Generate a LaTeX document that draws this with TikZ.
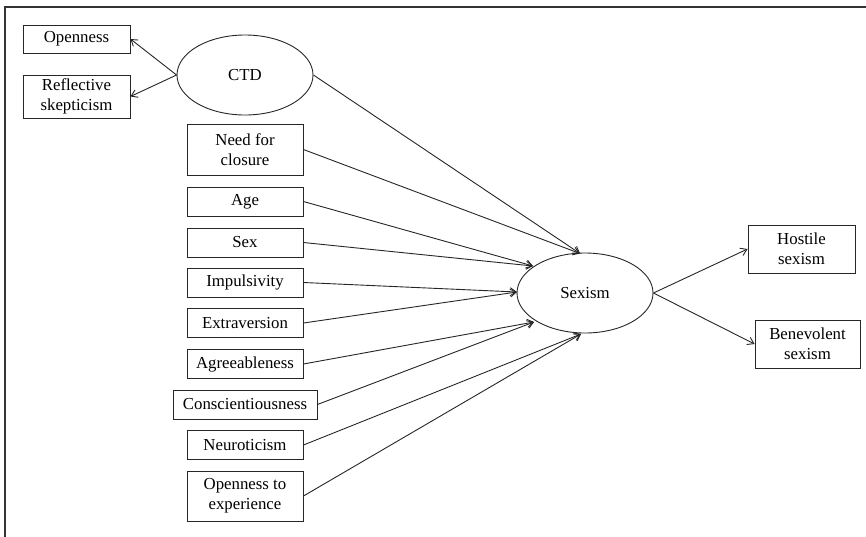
\documentclass[tikz,border=0pt]{standalone}
\usepackage{fontspec}
\setmainfont{Liberation Serif}
\usetikzlibrary{shapes.geometric,arrows.meta}
\begin{document}
\begin{tikzpicture}[x=1pt,y=-1pt,
  every node/.style={font=\fontsize{16.8}{20}\selectfont, text=black},
  box/.style={draw=black!85, line width=0.9pt, rectangle, inner sep=0pt,
              minimum width=116pt, minimum height=29pt, align=center},
  tallbox/.style={box, minimum height=50pt},
  latent/.style={draw=black!85, line width=0.9pt, ellipse, inner sep=0pt,
                 minimum width=136pt, minimum height=80pt},
  path/.style={draw=black!85, line width=0.9pt,
               -{Straight Barb[length=6pt,width=8pt]}}]
  \clip (0,0) rectangle (866,536);
  \useasboundingbox (0,0) rectangle (866,536);
  % outer frame (continues past the lower right corner)
  \draw[black!80, line width=1.4pt] (5,560) -- (5,7) -- (890,7);

  % measurement model of CTD
  \node[latent] (ctd) at (245,75) {CTD};
  \node[box, minimum width=107pt, minimum height=28pt] (open) at (76.5,39) {Openness};
  \node[box, minimum width=107pt, minimum height=43pt] (refl) at (76.5,96.5) {Reflective\\skepticism};

  % predictors
  \node[tallbox, minimum height=51pt] (nfc) at (245,149.5) {Need for\\closure};
  \node[box] (age) at (245,201.5) {Age};
  \node[box] (sex) at (245,242.5) {Sex};
  \node[box] (imp) at (245,282.5) {Impulsivity};
  \node[box] (ext) at (245,323) {Extraversion};
  \node[box] (agr) at (245,364) {Agreeableness};
  \node[box, minimum width=144pt] (con) at (245,404.5) {Conscientiousness};
  \node[box] (neu) at (245,445) {Neuroticism};
  \node[tallbox] (ote) at (245,496) {Openness to\\experience};

  % outcome and its indicators
  \node[latent] (sexism) at (585,293) {Sexism};
  \node[tallbox, minimum width=107pt, minimum height=48pt] (hos) at (801.5,249) {Hostile\\sexism};
  \node[tallbox, minimum width=105pt, minimum height=48pt] (ben) at (807.5,344) {Benevolent\\sexism};

  % entry points on the Sexism ellipse
  \coordinate (inA) at (580,253.5);
  \coordinate (inB) at (533,266);
  \coordinate (inC) at (517,292);
  \coordinate (inD) at (534,322);
  \coordinate (inE) at (581,334);

  % loadings
  \draw[path] (ctd.west) -- (open.east);
  \draw[path] (ctd.west) -- (refl.east);
  \draw[path] (sexism.east) -- (hos.west);
  \draw[path] (sexism.east) -- (ben.west);

  % structural paths
  \draw[path] (ctd.east) -- (inA);
  \draw[path] (nfc.east) -- (inA);
  \draw[path] (age.east) -- (inB);
  \draw[path] (sex.east) -- (inB);
  \draw[path] (imp.east) -- (inC);
  \draw[path] (ext.east) -- (inC);
  \draw[path] (agr.east) -- (inD);
  \draw[path] (con.east) -- (inD);
  \draw[path] (neu.east) -- (inE);
  \draw[path] (ote.east) -- (inE);
\end{tikzpicture}
\end{document}
